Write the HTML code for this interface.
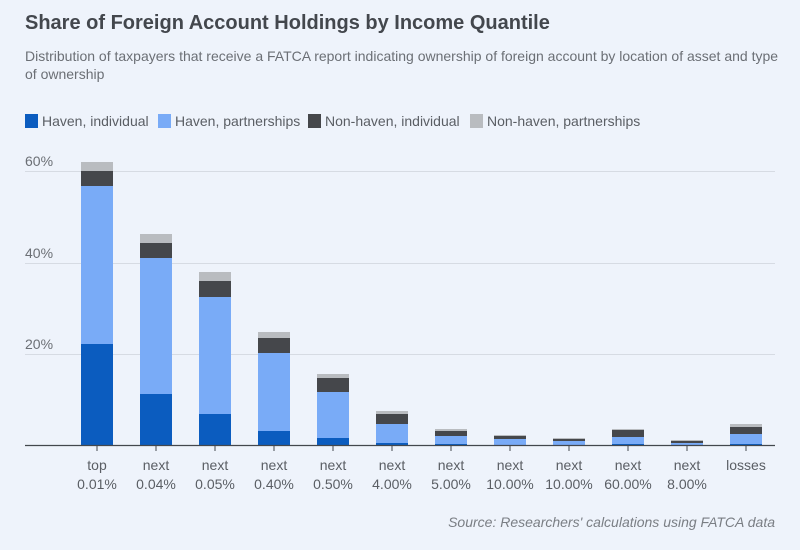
<!DOCTYPE html>
<html><head><meta charset="utf-8"><style>
body{margin:0;background:#eef3fb;}
svg{display:block;font-family:"Liberation Sans",sans-serif;}
</style></head><body>
<svg width="800" height="550" viewBox="0 0 800 550">
<rect width="800" height="550" fill="#eef3fb"/>
<text x="25" y="29" font-size="20" font-weight="bold" fill="#43474d">Share of Foreign Account Holdings by Income Quantile</text>
<text x="25" y="61" font-size="14" fill="#6b6f75">Distribution of taxpayers that receive a FATCA report indicating ownership of foreign account by location of asset and type</text>
<text x="25" y="79" font-size="14" fill="#6b6f75">of ownership</text>
<g font-size="14" fill="#5a5e64">
<rect x="25" y="114" width="13" height="14" fill="#0b5cbf"/><text x="42" y="126">Haven, individual</text>
<rect x="158" y="114" width="13" height="14" fill="#79abf7"/><text x="175" y="126">Haven, partnerships</text>
<rect x="308" y="114" width="13" height="14" fill="#45474b"/><text x="325" y="126">Non-haven, individual</text>
<rect x="470" y="114" width="13" height="14" fill="#b9bcc0"/><text x="487" y="126">Non-haven, partnerships</text>
</g>
<g stroke="#d6dbe3" stroke-width="1">
<line x1="25" y1="171.5" x2="775" y2="171.5"/><line x1="25" y1="263.5" x2="775" y2="263.5"/><line x1="25" y1="354.5" x2="775" y2="354.5"/>
</g>
<g font-size="14" fill="#6b6f75">
<text x="25" y="166">60%</text><text x="25" y="258">40%</text><text x="25" y="349">20%</text>
</g>
<g fill="#0b5cbf">
<rect x="81" y="344" width="32" height="101"/>
<rect x="140" y="394" width="32" height="51"/>
<rect x="199" y="414" width="32" height="31"/>
<rect x="258" y="431" width="32" height="14"/>
<rect x="317" y="438" width="32" height="7"/>
<rect x="376" y="443" width="32" height="2"/>
<rect x="435" y="444" width="32" height="1"/>
<rect x="612" y="444" width="32" height="1"/>
<rect x="730" y="444" width="32" height="1"/>
</g>
<g fill="#79abf7">
<rect x="81" y="186" width="32" height="158"/>
<rect x="140" y="258" width="32" height="136"/>
<rect x="199" y="297" width="32" height="117"/>
<rect x="258" y="353" width="32" height="78"/>
<rect x="317" y="392" width="32" height="46"/>
<rect x="376" y="424" width="32" height="19"/>
<rect x="435" y="436" width="32" height="8"/>
<rect x="494" y="439" width="32" height="6"/>
<rect x="553" y="441" width="32" height="4"/>
<rect x="612" y="437" width="32" height="7"/>
<rect x="671" y="443" width="32" height="2"/>
<rect x="730" y="434" width="32" height="10"/>
</g>
<g fill="#45474b">
<rect x="81" y="171" width="32" height="15"/>
<rect x="140" y="243" width="32" height="15"/>
<rect x="199" y="281" width="32" height="16"/>
<rect x="258" y="338" width="32" height="15"/>
<rect x="317" y="378" width="32" height="14"/>
<rect x="376" y="414" width="32" height="10"/>
<rect x="435" y="431" width="32" height="5"/>
<rect x="494" y="436" width="32" height="3"/>
<rect x="553" y="439" width="32" height="2"/>
<rect x="612" y="430" width="32" height="7"/>
<rect x="671" y="441" width="32" height="2"/>
<rect x="730" y="427" width="32" height="7"/>
</g>
<g fill="#b9bcc0">
<rect x="81" y="162" width="32" height="9"/>
<rect x="140" y="234" width="32" height="9"/>
<rect x="199" y="272" width="32" height="9"/>
<rect x="258" y="332" width="32" height="6"/>
<rect x="317" y="374" width="32" height="4"/>
<rect x="376" y="411" width="32" height="3"/>
<rect x="435" y="429" width="32" height="2"/>
<rect x="494" y="435" width="32" height="1"/>
<rect x="553" y="438" width="32" height="1"/>
<rect x="612" y="429" width="32" height="1"/>
<rect x="671" y="440" width="32" height="1"/>
<rect x="730" y="424" width="32" height="3"/>
</g>
<line x1="25" y1="445.5" x2="775" y2="445.5" stroke="#43474d" stroke-width="1.3"/>
<g stroke="#43474d">
<line x1="97" y1="446" x2="97" y2="451"/><line x1="156" y1="446" x2="156" y2="451"/><line x1="215" y1="446" x2="215" y2="451"/><line x1="274" y1="446" x2="274" y2="451"/><line x1="333" y1="446" x2="333" y2="451"/><line x1="392" y1="446" x2="392" y2="451"/><line x1="451" y1="446" x2="451" y2="451"/><line x1="510" y1="446" x2="510" y2="451"/><line x1="569" y1="446" x2="569" y2="451"/><line x1="628" y1="446" x2="628" y2="451"/><line x1="687" y1="446" x2="687" y2="451"/><line x1="746" y1="446" x2="746" y2="451"/>
</g>
<g font-size="14" fill="#5a5e64" text-anchor="middle">
<text x="97" y="470">top</text><text x="97" y="489">0.01%</text>
<text x="156" y="470">next</text><text x="156" y="489">0.04%</text>
<text x="215" y="470">next</text><text x="215" y="489">0.05%</text>
<text x="274" y="470">next</text><text x="274" y="489">0.40%</text>
<text x="333" y="470">next</text><text x="333" y="489">0.50%</text>
<text x="392" y="470">next</text><text x="392" y="489">4.00%</text>
<text x="451" y="470">next</text><text x="451" y="489">5.00%</text>
<text x="510" y="470">next</text><text x="510" y="489">10.00%</text>
<text x="569" y="470">next</text><text x="569" y="489">10.00%</text>
<text x="628" y="470">next</text><text x="628" y="489">60.00%</text>
<text x="687" y="470">next</text><text x="687" y="489">8.00%</text>
<text x="746" y="470">losses</text>
</g>
<text x="775" y="527" font-size="14" font-style="italic" fill="#7a7e84" text-anchor="end">Source: Researchers' calculations using FATCA data</text>
</svg>
</body></html>
